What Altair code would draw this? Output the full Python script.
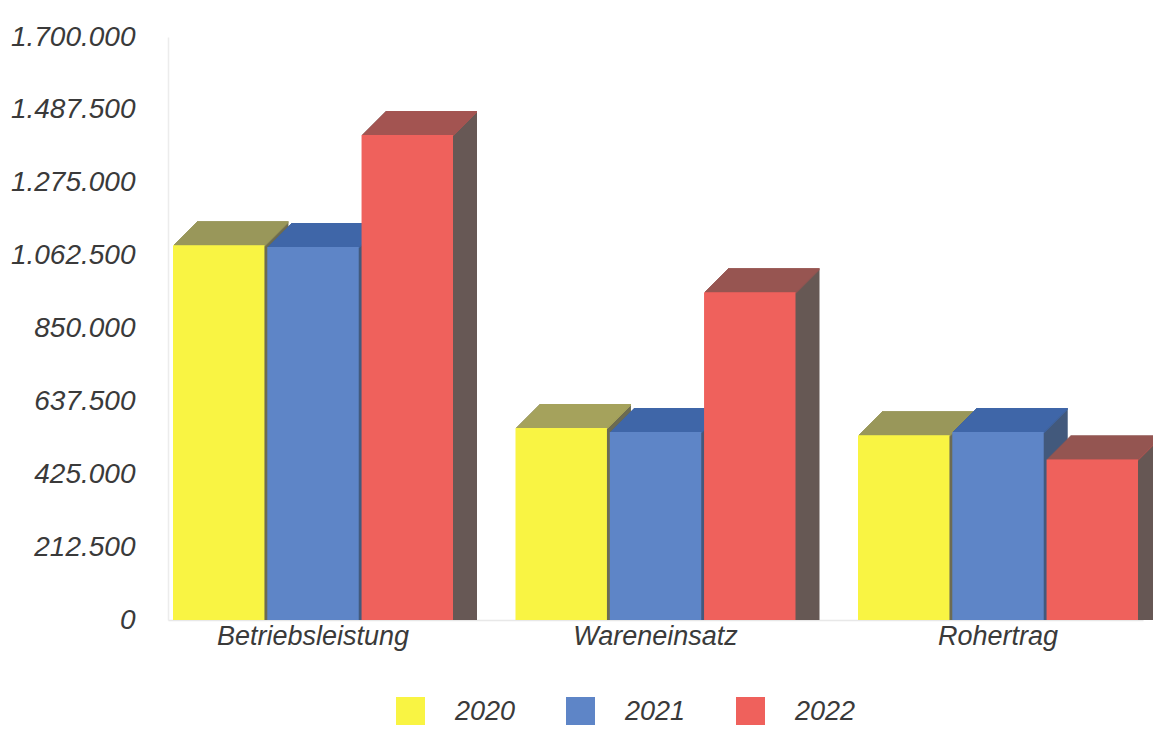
import altair as alt
import pandas as pd

categories = ["Betriebsleistung", "Wareneinsatz", "Rohertrag"]
years = ["2020", "2021", "2022"]
values_2020 = [1093000, 560000, 539000]
values_2021 = [1088000, 548000, 548000]
values_2022 = [1414000, 956000, 468000]
y_ticks = [0, 212500, 425000, 637500, 850000, 1062500, 1275000, 1487500, 1700000]

front_colors = ["#f9f443", "#5e85c7", "#ef615c"]
top_colors = ["#a5a25c", "#3f66a8", "#a35451"]
side_colors = ["#6d6c52", "#435a7d", "#675855"]

rows = []
for yr, vals in zip(years, [values_2020, values_2021, values_2022]):
    for c, v in zip(categories, vals):
        rows.append({"Kategorie": c, "Jahr": yr, "Wert": v})
df = pd.DataFrame(rows)

DEPTH = 24
BAND = 280  # pixel width of one category group
FONT = "Liberation Sans"
TEXT = "#3a3a3a"

x_enc = alt.X(
    "Kategorie:N", sort=categories,
    scale=alt.Scale(paddingInner=0.1825, paddingOuter=0.0146),
    axis=alt.Axis(title=None, labelAngle=0, labelFontSize=27, labelFont=FONT,
                  labelFontStyle="italic", labelColor=TEXT, labelPadding=3,
                  labelBaseline="top", labelLimit=0, ticks=False,
                  domainColor="#e8e8e8", domainWidth=1.5),
)
y_enc = alt.Y(
    "Wert:Q", stack=None,
    scale=alt.Scale(domain=[0, 1700000], nice=False, zero=True),
    axis=alt.Axis(title=None, values=y_ticks, grid=False, ticks=False,
                  labelExpr="replace(format(datum.value, ',d'), regexp(',', 'g'), '.')",
                  labelFontSize=28, labelFont=FONT, labelFontStyle="italic",
                  labelColor=TEXT, labelPadding=33, domainColor="#ececec",
                  domainWidth=1.5),
)


def xo(shift):
    return alt.XOffset("Jahr:N", sort=years,
                       scale=alt.Scale(paddingInner=0.03, paddingOuter=0,
                                       range=[shift, BAND + shift]))


def color(rng, legend=None):
    return alt.Color("Jahr:N", sort=years,
                     scale=alt.Scale(domain=years, range=rng), legend=legend)


base = alt.Chart(df)
layers = []
for k in range(DEPTH, 0, -1):
    layers.append(
        base.mark_bar(yOffset=-k, y2Offset=-k).encode(
            x=x_enc, xOffset=xo(k), y=y_enc, color=color(side_colors))
    )
    layers.append(
        base.mark_bar(yOffset=-k, y2Offset=-k + 2).encode(
            x=x_enc, xOffset=xo(k), y=y_enc, y2=alt.Y2("Wert:Q"),
            color=color(top_colors))
    )

front = base.mark_bar().encode(
    x=x_enc, xOffset=xo(0), y=y_enc,
    color=color(front_colors, legend=alt.Legend(
        title=None, orient="none", direction="horizontal",
        legendX=228, legendY=660, symbolType="square", symbolSize=841,
        symbolStrokeWidth=0, symbolOpacity=1, labelFontSize=27,
        labelFont=FONT, labelFontStyle="italic", labelColor=TEXT,
        labelOffset=30, columnPadding=50)),
)
layers.append(front)

chart = alt.layer(*layers).resolve_scale(
    color="independent", xOffset="independent"
).properties(
    width=975, height=583,
    autosize=alt.AutoSizeParams(type="none"),
    padding={"left": 160, "top": 29, "right": 10, "bottom": 105},
).configure(background="white").configure_view(stroke=None, strokeWidth=0)

chart.save("out.html", embed_options={"renderer": "svg", "actions": False})
